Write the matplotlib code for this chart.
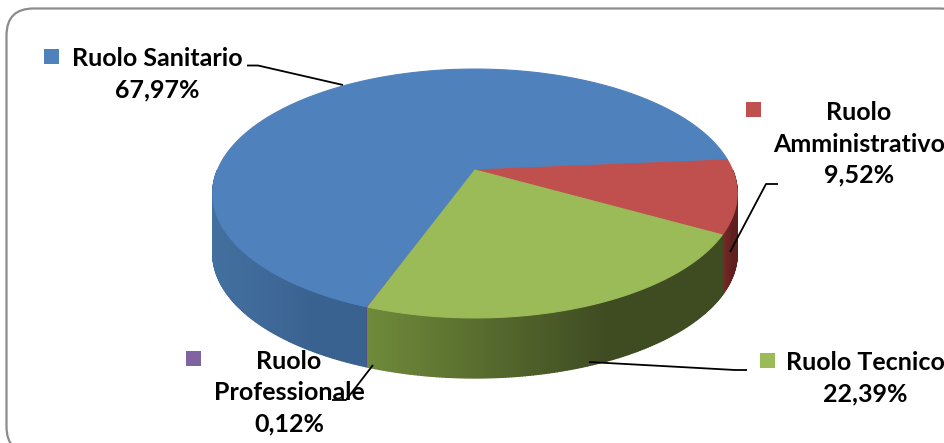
import numpy as np
import matplotlib
matplotlib.use("Agg")
import matplotlib.pyplot as plt
from matplotlib.patches import FancyBboxPatch, Polygon, Rectangle

# data
categories = ["Ruolo Sanitario", "Ruolo Amministrativo", "Ruolo Tecnico", "Ruolo Professionale"]
values = [67.97, 9.52, 22.39, 0.12]
value_labels = ["67,97%", "9,52%", "22,39%", "0,12%"]

top_colors = ["#4F81BD", "#C0504D", "#9BBB59", "#8064A2"]
# wall colours: (at left end of the visible wall, at right end)
wall_left = ["#43709F", "#7A2A28", "#6F8A3A", "#5A4678"]
wall_right = ["#3A6291", "#5E1F1E", "#3F4C22", "#5A4678"]

W, H = 944, 443
fig = plt.figure(figsize=(W / 100, H / 100), dpi=100, facecolor="white")
ax = fig.add_axes([0, 0, 1, 1])
ax.set_xlim(0, W)
ax.set_ylim(H, 0)
ax.axis("off")

# frame (runs past the right and bottom edges of the picture)
ax.add_patch(FancyBboxPatch((6.5, 8.5), 960, 445, boxstyle="round,pad=0,rounding_size=27",
                            fc="white", ec="#8C8C8C", lw=1.6, zorder=0))

# perspective projection of the pie disc
cx, cy, A, B, k, depth = 475.0, 170.0, 257.5, 120.0, 0.1888, 60.0
END_GREEN = 110.0  # angle where the Tecnico slice ends


def proj(deg):
    t = np.deg2rad(deg)
    u, v = np.cos(t), np.sin(t)
    d = 1 - k * v
    return cx + A * u / d, cy + B * v / d


spans = np.array(values) / sum(values) * 360.0
start = END_GREEN + spans[3]
angles = []
a = start
for s in spans:
    angles.append((a, a + s))
    a += s
draw_order = [3, 0, 1, 2]


def mix(c1, c2, f):
    c1, c2 = np.array(matplotlib.colors.to_rgb(c1)), np.array(matplotlib.colors.to_rgb(c2))
    return tuple(c1 + (c2 - c1) * f)


# side wall
for i in draw_order:
    a0, a1 = angles[i]
    th = np.append(np.arange(a0, a1, 0.5), a1)
    pieces = [(t0, t1) for t0, t1 in zip(th[:-1], th[1:]) if 0 < (t0 + t1) / 2 % 360 < 180]
    if not pieces:
        continue
    xs = [proj(p[0])[0] for p in pieces] + [proj(pieces[-1][1])[0]]
    xmin, xmax = min(xs), max(xs)
    for t0, t1 in pieces:
        x0, y0 = proj(t0)
        x1, y1 = proj(t1)
        f = ((x0 + x1) / 2 - xmin) / max(xmax - xmin, 1)
        col = mix(wall_left[i], wall_right[i], min(1, f * 1.5))
        ax.add_patch(Polygon([(x0, y0), (x1, y1), (x1, y1 + depth), (x0, y0 + depth)],
                             fc=col, ec=col, lw=1.0, zorder=2))

# top face
for i in draw_order:
    a0, a1 = angles[i]
    th = np.linspace(a0, a1, max(int((a1 - a0) * 2), 3))
    pts = [(cx, cy)] + [proj(t) for t in th]
    ax.add_patch(Polygon(pts, fc=top_colors[i], ec=top_colors[i], lw=0.8, zorder=3))

# legend keys
key_xy = [(44, 49), (746, 102), (760, 353), (186, 351)]
for (x, y), c in zip(key_xy, top_colors):
    ax.add_patch(Rectangle((x, y), 15, 15, fc=c, ec="none", zorder=5))

# leader lines
leaders = [
    ([247, 258, 343], [65.5, 65.5, 85]),
    ([778, 766, 730], [184, 184, 252]),
    ([747, 735, 589], [370, 370, 362]),
    ([332, 346, 373], [400, 400, 365]),
]
for xs, ys in leaders:
    ax.plot(xs, ys, color="black", lw=1.3, zorder=6, solid_capstyle="butt")

# labels
label_text = [
    "Ruolo Sanitario\n" + value_labels[0],
    "Ruolo\nAmministrativo\n" + value_labels[1],
    "Ruolo Tecnico\n" + value_labels[2],
    "Ruolo\nProfessionale\n" + value_labels[3],
]
label_xy = [(157, 74), (859, 144), (865, 378), (289, 393)]
for (x, y), s in zip(label_xy, label_text):
    ax.text(x, y, s, ha="center", va="center", family="Lato", fontweight="bold",
            fontsize=18, color="black", linespacing=1.44, zorder=7)

fig.savefig("out.png", dpi=100, facecolor="white")
